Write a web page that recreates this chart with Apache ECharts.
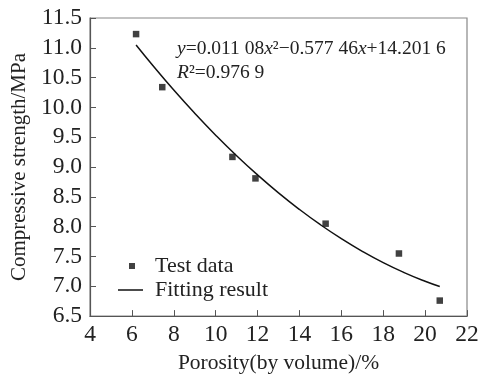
<!DOCTYPE html>
<html><head><meta charset="utf-8">
<script src="https://cdn.jsdelivr.net/npm/echarts@6/dist/echarts.min.js"></script>
<style>html,body{margin:0;padding:0;background:#fff}#c{width:482px;height:379px}</style>
</head><body><div id="c"></div>
<script>
const testX = [6.2, 7.45, 10.8, 11.9, 15.25, 18.75, 20.7];
const testY = [11.23, 10.34, 9.17, 8.81, 8.05, 7.55, 6.76];
const fitX = [6.2, 7, 8, 9, 10, 11, 12, 13, 14, 15, 16, 17, 18, 19, 20, 20.7];
const fitY = [11.047, 10.703, 10.291, 9.902, 9.535, 9.190, 8.868, 8.567, 8.289, 8.033, 7.799, 7.587, 7.397, 7.230, 7.084, 6.996];
const xTicks = [4, 6, 8, 10, 12, 14, 16, 18, 20, 22];
const yTicks = [6.5, 7.0, 7.5, 8.0, 8.5, 9.0, 9.5, 10.0, 10.5, 11.0, 11.5];

const serif = '"Liberation Serif","DejaVu Serif",serif';
const chart = echarts.init(document.getElementById('c'));
chart.setOption({
  animation: false,
  backgroundColor: '#fff',
  textStyle: {fontFamily: serif, color: '#222'},
  grid: {left: 90, right: 15, top: 18, bottom: 60, show: true, borderColor: '#888', borderWidth: 1.2},
  xAxis: {
    type: 'value', min: xTicks[0], max: xTicks[xTicks.length - 1], interval: 2,
    name: 'Porosity(by volume)/%', nameLocation: 'middle', nameGap: 35,
    nameTextStyle: {fontFamily: serif, fontSize: 21.5, color: '#222'},
    axisLine: {lineStyle: {color: '#555', width: 1.2}},
    axisTick: {inside: true, length: 6, lineStyle: {color: '#555'}},
    axisLabel: {fontFamily: serif, fontSize: 23.5, color: '#222', margin: 7},
    splitLine: {show: false}
  },
  yAxis: {
    type: 'value', min: yTicks[0], max: yTicks[yTicks.length - 1], interval: 0.5,
    name: 'Compressive strength/MPa', nameLocation: 'middle', nameGap: 54, nameRotate: 90,
    nameTextStyle: {fontFamily: serif, fontSize: 21, color: '#222'},
    axisLine: {show: true, lineStyle: {color: '#555', width: 1.2}},
    axisTick: {show: true, inside: true, length: 6, lineStyle: {color: '#555'}},
    axisLabel: {fontFamily: serif, fontSize: 23.5, color: '#222', margin: 8,
      formatter: v => v.toFixed(1)},
    splitLine: {show: false}
  },
  legend: [
    {data: [{name: 'Test data', icon: 'rect'}], orient: 'vertical', left: 129, top: 255, padding: 0,
     itemWidth: 6, itemHeight: 6,
     textStyle: {fontFamily: serif, fontSize: 22, color: '#222', padding: [0, 0, 0, 15]}},
    {data: [{name: 'Fitting result', icon: 'rect'}], orient: 'vertical', left: 118, top: 279, padding: 0,
     itemWidth: 25, itemHeight: 1.5,
     textStyle: {fontFamily: serif, fontSize: 22, color: '#222', padding: [0, 0, 0, 7]}}
  ],
  graphic: [{
    type: 'text', left: 177, top: 37, z: 10,
    style: {
      text: '{i|y}=0.011 08{i|x}²−0.577 46{i|x}+14.201 6\n{i|R}²=0.976 9',
      font: '19.5px ' + serif, fill: '#222', lineHeight: 24,
      rich: {i: {fontStyle: 'italic', fontFamily: serif, fontSize: 19.5, fill: '#222'}}
    }
  }],
  series: [
    {name: 'Test data', type: 'scatter', symbol: 'rect', symbolSize: 6.5,
     itemStyle: {color: '#111'}, data: testX.map((x, i) => [x, testY[i]])},
    {name: 'Fitting result', type: 'line', smooth: true, showSymbol: false, symbol: 'none',
     lineStyle: {color: '#111', width: 1.5}, itemStyle: {color: '#111'},
     data: fitX.map((x, i) => [x, fitY[i]])}
  ]
});
</script></body></html>
